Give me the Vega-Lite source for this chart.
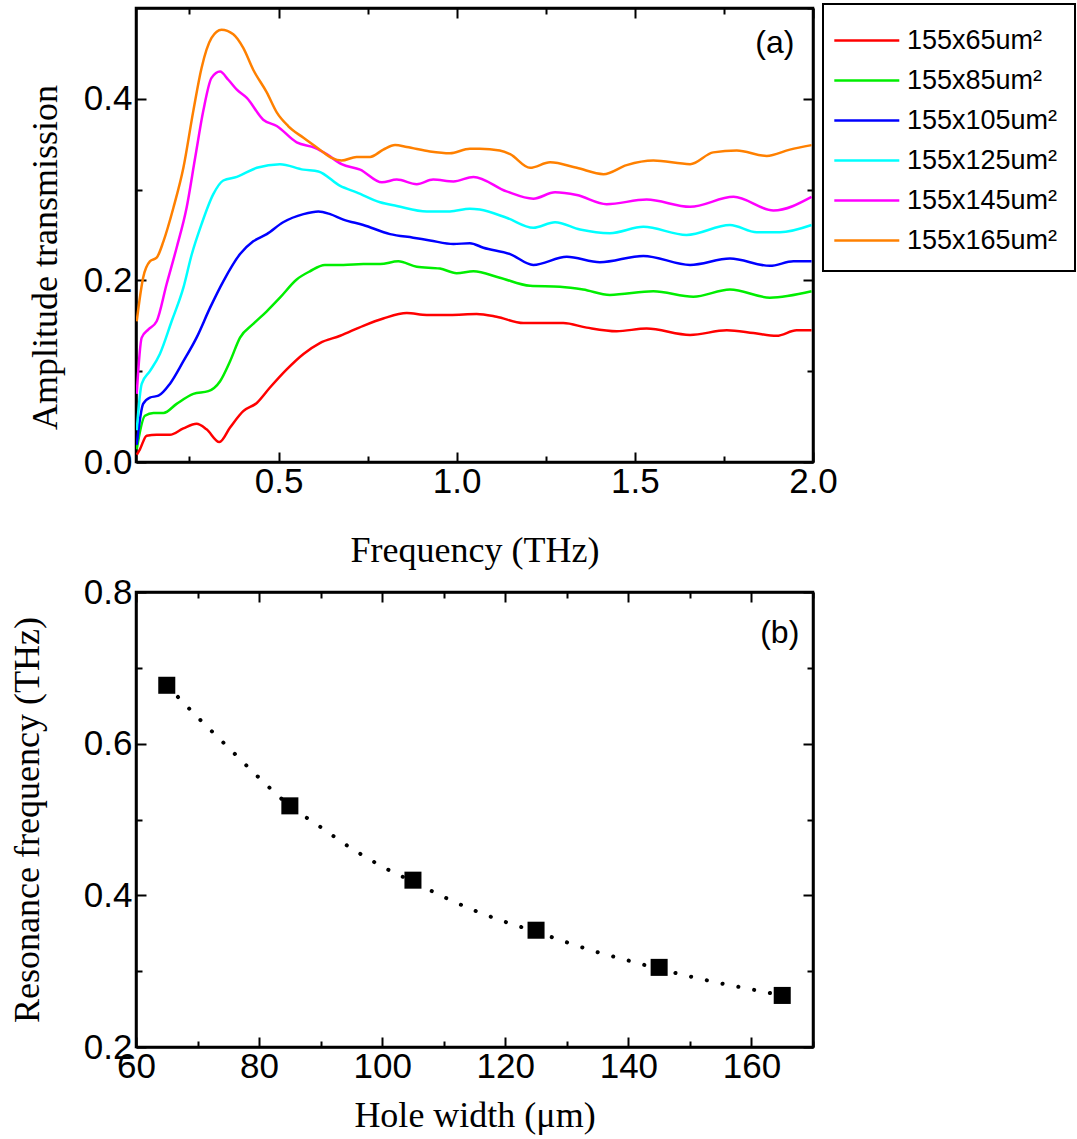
{
  "$schema": "https://vega.github.io/schema/vega-lite/v6.json",
  "background": "white",
  "padding": {"left": 8, "top": 1, "right": 5, "bottom": 2},
  "config": {
    "view": {"stroke": "black", "strokeWidth": 2.5},
    "axis": {
      "grid": false, "domainColor": "black", "domainWidth": 2.5,
      "tickColor": "black", "tickWidth": 2, "labelFlush": false, "labelOverlap": false,
      "labelFont": "Liberation Sans", "labelFontSize": 35, "labelColor": "black",
      "titleFont": "Liberation Serif", "titleFontSize": 36, "titleFontWeight": "normal", "titleColor": "black"
    },
    "concat": {"spacing": 3}
  },
  "resolve": {"legend": {"color": "independent"}},
  "datasets": {
    "curves": [
      {"s":"155x65um²","f":0.102,"v":0.008},{"s":"155x65um²","f":0.111,"v":0.014},{"s":"155x65um²","f":0.13,"v":0.029},{"s":"155x65um²","f":0.158,"v":0.030},{"s":"155x65um²","f":0.195,"v":0.030},{"s":"155x65um²","f":0.233,"v":0.037},{"s":"155x65um²","f":0.27,"v":0.042},{"s":"155x65um²","f":0.298,"v":0.036},{"s":"155x65um²","f":0.334,"v":0.022},{"s":"155x65um²","f":0.364,"v":0.038},{"s":"155x65um²","f":0.401,"v":0.056},{"s":"155x65um²","f":0.439,"v":0.065},{"s":"155x65um²","f":0.476,"v":0.082},{"s":"155x65um²","f":0.523,"v":0.102},{"s":"155x65um²","f":0.57,"v":0.119},{"s":"155x65um²","f":0.616,"v":0.131},{"s":"155x65um²","f":0.673,"v":0.139},{"s":"155x65um²","f":0.738,"v":0.150},{"s":"155x65um²","f":0.794,"v":0.158},{"s":"155x65um²","f":0.86,"v":0.164},{"s":"155x65um²","f":0.916,"v":0.162},{"s":"155x65um²","f":0.981,"v":0.162},{"s":"155x65um²","f":1.056,"v":0.163},{"s":"155x65um²","f":1.112,"v":0.160},{"s":"155x65um²","f":1.187,"v":0.153},{"s":"155x65um²","f":1.299,"v":0.153},{"s":"155x65um²","f":1.365,"v":0.148},{"s":"155x65um²","f":1.449,"v":0.144},{"s":"155x65um²","f":1.533,"v":0.147},{"s":"155x65um²","f":1.655,"v":0.140},{"s":"155x65um²","f":1.758,"v":0.145},{"s":"155x65um²","f":1.833,"v":0.142},{"s":"155x65um²","f":1.898,"v":0.139},{"s":"155x65um²","f":1.954,"v":0.145},{"s":"155x65um²","f":1.996,"v":0.145},
      {"s":"155x85um²","f":0.102,"v":0.014},{"s":"155x85um²","f":0.125,"v":0.051},{"s":"155x85um²","f":0.149,"v":0.054},{"s":"155x85um²","f":0.177,"v":0.054},{"s":"155x85um²","f":0.214,"v":0.064},{"s":"155x85um²","f":0.261,"v":0.075},{"s":"155x85um²","f":0.303,"v":0.078},{"s":"155x85um²","f":0.336,"v":0.089},{"s":"155x85um²","f":0.364,"v":0.111},{"s":"155x85um²","f":0.392,"v":0.137},{"s":"155x85um²","f":0.429,"v":0.152},{"s":"155x85um²","f":0.467,"v":0.166},{"s":"155x85um²","f":0.504,"v":0.181},{"s":"155x85um²","f":0.551,"v":0.201},{"s":"155x85um²","f":0.588,"v":0.210},{"s":"155x85um²","f":0.63,"v":0.217},{"s":"155x85um²","f":0.682,"v":0.217},{"s":"155x85um²","f":0.738,"v":0.218},{"s":"155x85um²","f":0.785,"v":0.218},{"s":"155x85um²","f":0.836,"v":0.221},{"s":"155x85um²","f":0.888,"v":0.215},{"s":"155x85um²","f":0.953,"v":0.213},{"s":"155x85um²","f":1.0,"v":0.208},{"s":"155x85um²","f":1.047,"v":0.210},{"s":"155x85um²","f":1.121,"v":0.203},{"s":"155x85um²","f":1.206,"v":0.194},{"s":"155x85um²","f":1.29,"v":0.193},{"s":"155x85um²","f":1.355,"v":0.190},{"s":"155x85um²","f":1.43,"v":0.184},{"s":"155x85um²","f":1.552,"v":0.188},{"s":"155x85um²","f":1.664,"v":0.182},{"s":"155x85um²","f":1.767,"v":0.190},{"s":"155x85um²","f":1.879,"v":0.181},{"s":"155x85um²","f":1.996,"v":0.188},
      {"s":"155x105um²","f":0.102,"v":0.019},{"s":"155x105um²","f":0.12,"v":0.064},{"s":"155x105um²","f":0.139,"v":0.071},{"s":"155x105um²","f":0.163,"v":0.073},{"s":"155x105um²","f":0.195,"v":0.086},{"s":"155x105um²","f":0.233,"v":0.111},{"s":"155x105um²","f":0.27,"v":0.137},{"s":"155x105um²","f":0.308,"v":0.170},{"s":"155x105um²","f":0.345,"v":0.199},{"s":"155x105um²","f":0.392,"v":0.229},{"s":"155x105um²","f":0.429,"v":0.243},{"s":"155x105um²","f":0.467,"v":0.251},{"s":"155x105um²","f":0.513,"v":0.264},{"s":"155x105um²","f":0.57,"v":0.273},{"s":"155x105um²","f":0.612,"v":0.276},{"s":"155x105um²","f":0.645,"v":0.273},{"s":"155x105um²","f":0.682,"v":0.267},{"s":"155x105um²","f":0.738,"v":0.261},{"s":"155x105um²","f":0.813,"v":0.251},{"s":"155x105um²","f":0.878,"v":0.247},{"s":"155x105um²","f":0.925,"v":0.244},{"s":"155x105um²","f":0.991,"v":0.240},{"s":"155x105um²","f":1.037,"v":0.241},{"s":"155x105um²","f":1.075,"v":0.236},{"s":"155x105um²","f":1.15,"v":0.229},{"s":"155x105um²","f":1.215,"v":0.217},{"s":"155x105um²","f":1.309,"v":0.226},{"s":"155x105um²","f":1.402,"v":0.220},{"s":"155x105um²","f":1.524,"v":0.227},{"s":"155x105um²","f":1.655,"v":0.217},{"s":"155x105um²","f":1.767,"v":0.224},{"s":"155x105um²","f":1.879,"v":0.216},{"s":"155x105um²","f":1.945,"v":0.221},{"s":"155x105um²","f":1.996,"v":0.221},
      {"s":"155x125um²","f":0.102,"v":0.035},{"s":"155x125um²","f":0.116,"v":0.086},{"s":"155x125um²","f":0.139,"v":0.100},{"s":"155x125um²","f":0.167,"v":0.119},{"s":"155x125um²","f":0.2,"v":0.155},{"s":"155x125um²","f":0.233,"v":0.192},{"s":"155x125um²","f":0.256,"v":0.228},{"s":"155x125um²","f":0.284,"v":0.262},{"s":"155x125um²","f":0.317,"v":0.295},{"s":"155x125um²","f":0.345,"v":0.310},{"s":"155x125um²","f":0.383,"v":0.314},{"s":"155x125um²","f":0.439,"v":0.324},{"s":"155x125um²","f":0.504,"v":0.328},{"s":"155x125um²","f":0.57,"v":0.322},{"s":"155x125um²","f":0.612,"v":0.320},{"s":"155x125um²","f":0.673,"v":0.304},{"s":"155x125um²","f":0.719,"v":0.297},{"s":"155x125um²","f":0.785,"v":0.286},{"s":"155x125um²","f":0.832,"v":0.282},{"s":"155x125um²","f":0.916,"v":0.276},{"s":"155x125um²","f":0.981,"v":0.276},{"s":"155x125um²","f":1.037,"v":0.279},{"s":"155x125um²","f":1.065,"v":0.278},{"s":"155x125um²","f":1.14,"v":0.269},{"s":"155x125um²","f":1.215,"v":0.258},{"s":"155x125um²","f":1.276,"v":0.264},{"s":"155x125um²","f":1.346,"v":0.256},{"s":"155x125um²","f":1.43,"v":0.252},{"s":"155x125um²","f":1.524,"v":0.259},{"s":"155x125um²","f":1.645,"v":0.250},{"s":"155x125um²","f":1.767,"v":0.261},{"s":"155x125um²","f":1.842,"v":0.253},{"s":"155x125um²","f":1.907,"v":0.253},{"s":"155x125um²","f":1.996,"v":0.261},
      {"s":"155x145um²","f":0.102,"v":0.075},{"s":"155x145um²","f":0.116,"v":0.137},{"s":"155x145um²","f":0.135,"v":0.146},{"s":"155x145um²","f":0.158,"v":0.155},{"s":"155x145um²","f":0.186,"v":0.196},{"s":"155x145um²","f":0.214,"v":0.236},{"s":"155x145um²","f":0.242,"v":0.280},{"s":"155x145um²","f":0.266,"v":0.335},{"s":"155x145um²","f":0.289,"v":0.387},{"s":"155x145um²","f":0.312,"v":0.423},{"s":"155x145um²","f":0.336,"v":0.430},{"s":"155x145um²","f":0.359,"v":0.421},{"s":"155x145um²","f":0.383,"v":0.410},{"s":"155x145um²","f":0.411,"v":0.401},{"s":"155x145um²","f":0.457,"v":0.377},{"s":"155x145um²","f":0.495,"v":0.370},{"s":"155x145um²","f":0.551,"v":0.352},{"s":"155x145um²","f":0.602,"v":0.346},{"s":"155x145um²","f":0.635,"v":0.339},{"s":"155x145um²","f":0.677,"v":0.328},{"s":"155x145um²","f":0.729,"v":0.322},{"s":"155x145um²","f":0.79,"v":0.308},{"s":"155x145um²","f":0.832,"v":0.311},{"s":"155x145um²","f":0.888,"v":0.306},{"s":"155x145um²","f":0.934,"v":0.311},{"s":"155x145um²","f":0.991,"v":0.309},{"s":"155x145um²","f":1.047,"v":0.314},{"s":"155x145um²","f":1.14,"v":0.298},{"s":"155x145um²","f":1.215,"v":0.290},{"s":"155x145um²","f":1.276,"v":0.297},{"s":"155x145um²","f":1.337,"v":0.294},{"s":"155x145um²","f":1.421,"v":0.284},{"s":"155x145um²","f":1.533,"v":0.289},{"s":"155x145um²","f":1.655,"v":0.281},{"s":"155x145um²","f":1.777,"v":0.292},{"s":"155x145um²","f":1.889,"v":0.277},{"s":"155x145um²","f":1.996,"v":0.292},
      {"s":"155x165um²","f":0.102,"v":0.155},{"s":"155x165um²","f":0.12,"v":0.203},{"s":"155x165um²","f":0.139,"v":0.221},{"s":"155x165um²","f":0.158,"v":0.225},{"s":"155x165um²","f":0.177,"v":0.243},{"s":"155x165um²","f":0.205,"v":0.280},{"s":"155x165um²","f":0.233,"v":0.324},{"s":"155x165um²","f":0.261,"v":0.387},{"s":"155x165um²","f":0.284,"v":0.434},{"s":"155x165um²","f":0.312,"v":0.467},{"s":"155x165um²","f":0.34,"v":0.476},{"s":"155x165um²","f":0.373,"v":0.471},{"s":"155x165um²","f":0.401,"v":0.456},{"s":"155x165um²","f":0.429,"v":0.432},{"s":"155x165um²","f":0.467,"v":0.407},{"s":"155x165um²","f":0.495,"v":0.385},{"s":"155x165um²","f":0.527,"v":0.370},{"s":"155x165um²","f":0.57,"v":0.357},{"s":"155x165um²","f":0.616,"v":0.344},{"s":"155x165um²","f":0.649,"v":0.335},{"s":"155x165um²","f":0.677,"v":0.332},{"s":"155x165um²","f":0.719,"v":0.336},{"s":"155x165um²","f":0.757,"v":0.336},{"s":"155x165um²","f":0.794,"v":0.344},{"s":"155x165um²","f":0.827,"v":0.349},{"s":"155x165um²","f":0.86,"v":0.347},{"s":"155x165um²","f":0.925,"v":0.342},{"s":"155x165um²","f":0.981,"v":0.340},{"s":"155x165um²","f":1.037,"v":0.345},{"s":"155x165um²","f":1.065,"v":0.345},{"s":"155x165um²","f":1.121,"v":0.343},{"s":"155x165um²","f":1.15,"v":0.339},{"s":"155x165um²","f":1.206,"v":0.324},{"s":"155x165um²","f":1.262,"v":0.330},{"s":"155x165um²","f":1.337,"v":0.324},{"s":"155x165um²","f":1.412,"v":0.317},{"s":"155x165um²","f":1.477,"v":0.327},{"s":"155x165um²","f":1.552,"v":0.332},{"s":"155x165um²","f":1.655,"v":0.328},{"s":"155x165um²","f":1.72,"v":0.341},{"s":"155x165um²","f":1.786,"v":0.343},{"s":"155x165um²","f":1.87,"v":0.337},{"s":"155x165um²","f":1.935,"v":0.344},{"s":"155x165um²","f":1.996,"v":0.349}
    ],
    "points": [
      {"w":65,"r":0.677},{"w":85,"r":0.518},{"w":105,"r":0.42},{"w":125,"r":0.354},{"w":145,"r":0.305},{"w":165,"r":0.268}
    ],
    "fit": [
      {"w":65,"r":0.677},{"w":70,"r":0.635},{"w":75,"r":0.595},{"w":80,"r":0.555},{"w":85,"r":0.518},{"w":90,"r":0.49},{"w":95,"r":0.462},{"w":100,"r":0.438},{"w":105,"r":0.418},{"w":110,"r":0.398},{"w":115,"r":0.38},{"w":120,"r":0.365},{"w":125,"r":0.352},{"w":130,"r":0.338},{"w":135,"r":0.325},{"w":140,"r":0.314},{"w":145,"r":0.303},{"w":150,"r":0.293},{"w":155,"r":0.284},{"w":160,"r":0.276},{"w":165,"r":0.268}
    ],
    "labA": [{"t":"(a)","x":1.893,"y":0.461}],
    "labB": [{"t":"(b)","x":164.6,"y":0.746}]
  },
  "vconcat": [
    {
      "width": 677, "height": 454,
      "layer": [
        {
          "data": {"name": "curves"},
          "mark": {"type": "line", "strokeWidth": 2.5, "interpolate": "monotone", "clip": true},
          "encoding": {
            "x": {"field": "f", "type": "quantitative",
              "scale": {"domain": [0.1, 2.0], "nice": false, "zero": false},
              "axis": {"orient": "bottom", "title": "Frequency (THz)",
                "values": [0.25, 0.5, 0.75, 1.0, 1.25, 1.5, 1.75, 2.0],
                "labelExpr": "datum.value % 0.5 == 0 ? format(datum.value, '.1f') : ''",
                "tickSize": {"condition": {"test": "datum.value % 0.5 == 0", "value": -10}, "value": -6},
                "labelPadding": 12, "titlePadding": 30}},
            "y": {"field": "v", "type": "quantitative",
              "scale": {"domain": [0, 0.5], "nice": false},
              "axis": {"orient": "left", "title": "Amplitude transmission",
                "values": [0, 0.1, 0.2, 0.3, 0.4],
                "labelExpr": "round(datum.value * 10) % 2 == 0 ? format(datum.value, '.1f') : ''",
                "tickSize": {"condition": {"test": "round(datum.value * 10) % 2 == 0", "value": -10}, "value": -6},
                "labelPadding": 14, "titlePadding": 19, "titleY": 249}},
            "color": {"field": "s", "type": "nominal",
              "scale": {"domain": ["155x65um²", "155x85um²", "155x105um²", "155x125um²", "155x145um²", "155x165um²"],
                        "range": ["#ff0000", "#00ee00", "#0000ff", "#00ffff", "#ff00ff", "#ff8000"]},
              "legend": {"orient": "none", "legendX": 687, "legendY": -4, "title": null,
                "symbolType": "M-1.4,0H2.211", "symbolSize": 1296, "symbolStrokeWidth": 2.5,
                "labelFont": "Liberation Sans", "labelFontSize": 27, "labelColor": "black", "labelOffset": 28, "labelLimit": 400,
                "strokeColor": "black", "fillColor": "white", "padding": 17, "rowPadding": 7,
                "encode": {"legend": {"update": {"strokeWidth": {"value": 2}}}}}}
          }
        },
        {
          "data": {"name": "labA"},
          "mark": {"type": "text", "font": "Liberation Sans", "fontSize": 32, "align": "center", "baseline": "middle", "color": "black"},
          "encoding": {
            "x": {"field": "x", "type": "quantitative",
              "scale": {"domain": [0.1, 2.0], "nice": false, "zero": false},
              "axis": {"orient": "top", "title": null, "labels": false,
                "values": [0.25, 0.5, 0.75, 1.0, 1.25, 1.5, 1.75, 2.0],
                "tickSize": {"condition": {"test": "datum.value % 0.5 == 0", "value": -10}, "value": -6}}},
            "y": {"field": "y", "type": "quantitative",
              "scale": {"domain": [0, 0.5], "nice": false},
              "axis": {"orient": "right", "title": null, "labels": false,
                "values": [0, 0.1, 0.2, 0.3, 0.4, 0.5],
                "tickSize": {"condition": {"test": "round(datum.value * 10) % 2 == 0", "value": -10}, "value": -6}}},
            "text": {"field": "t"}
          }
        }
      ]
    },
    {
      "width": 677, "height": 455,
      "layer": [
        {
          "data": {"name": "fit"},
          "mark": {"type": "line", "color": "black", "strokeWidth": 4, "strokeDash": [0.1, 16], "strokeCap": "round", "interpolate": "monotone"},
          "encoding": {
            "x": {"field": "w", "type": "quantitative",
              "scale": {"domain": [60, 170], "nice": false, "zero": false},
              "axis": {"orient": "bottom", "title": "Hole width (μm)",
                "values": [60, 70, 80, 90, 100, 110, 120, 130, 140, 150, 160, 170],
                "labelExpr": "datum.value % 20 == 0 && datum.value < 165 ? format(datum.value, 'd') : ''",
                "tickSize": {"condition": {"test": "datum.value % 20 == 0", "value": -10}, "value": -6},
                "labelPadding": 12, "titlePadding": 10}},
            "y": {"field": "r", "type": "quantitative",
              "scale": {"domain": [0.2, 0.8], "nice": false, "zero": false},
              "axis": {"orient": "left", "title": "Resonance frequency (THz)",
                "values": [0.2, 0.3, 0.4, 0.5, 0.6, 0.7, 0.8],
                "labelExpr": "round(datum.value * 10) % 2 == 0 ? format(datum.value, '.1f') : ''",
                "tickSize": {"condition": {"test": "round(datum.value * 10) % 2 == 0", "value": -10}, "value": -6},
                "labelPadding": 14, "titlePadding": 37}}
          }
        },
        {
          "data": {"name": "points"},
          "mark": {"type": "point", "shape": "square", "filled": true, "size": 290, "color": "black", "opacity": 1},
          "encoding": {
            "x": {"field": "w", "type": "quantitative", "axis": null},
            "y": {"field": "r", "type": "quantitative", "axis": null}
          }
        },
        {
          "data": {"name": "labB"},
          "mark": {"type": "text", "font": "Liberation Sans", "fontSize": 32, "align": "center", "baseline": "middle", "color": "black"},
          "encoding": {
            "x": {"field": "x", "type": "quantitative",
              "scale": {"domain": [60, 170], "nice": false, "zero": false},
              "axis": {"orient": "top", "title": null, "labels": false,
                "values": [60, 70, 80, 90, 100, 110, 120, 130, 140, 150, 160, 170],
                "tickSize": {"condition": {"test": "datum.value % 20 == 0", "value": -10}, "value": -6}}},
            "y": {"field": "y", "type": "quantitative",
              "scale": {"domain": [0.2, 0.8], "nice": false, "zero": false},
              "axis": {"orient": "right", "title": null, "labels": false,
                "values": [0.2, 0.3, 0.4, 0.5, 0.6, 0.7, 0.8],
                "tickSize": {"condition": {"test": "round(datum.value * 10) % 2 == 0", "value": -10}, "value": -6}}},
            "text": {"field": "t"}
          }
        }
      ]
    }
  ]
}
